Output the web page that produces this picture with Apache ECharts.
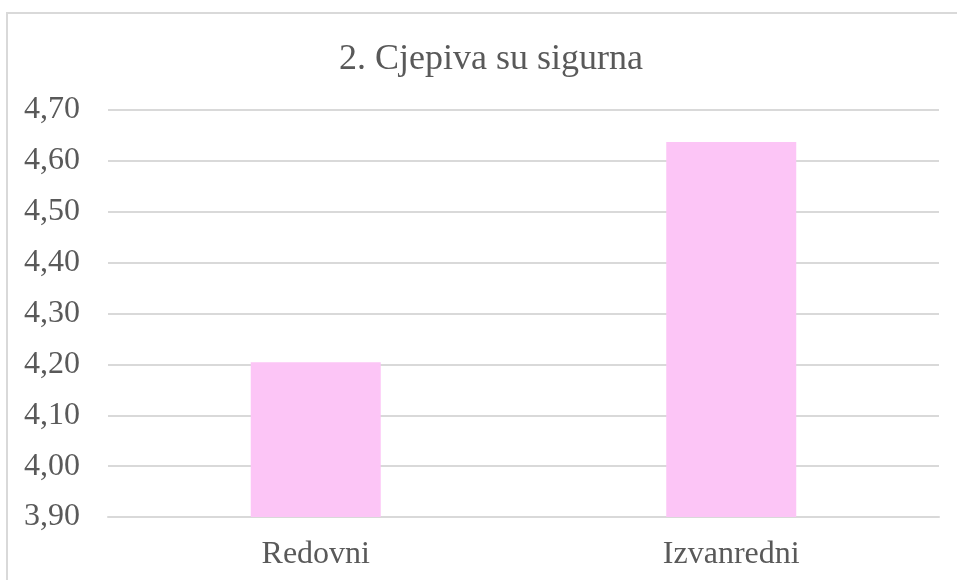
<!DOCTYPE html>
<html>
<head>
<meta charset="utf-8">
<script src="https://cdn.jsdelivr.net/npm/echarts@6/dist/echarts.min.js"></script>
<style>
  html, body { margin: 0; padding: 0; background: #fff; }
  #chart { width: 957px; height: 580px; }
</style>
</head>
<body>
<div id="chart"></div>
<script>
const categories = ['Redovni', 'Izvanredni']
const values = [4.204, 4.637]
const yMin = 3.9
const yMax = 4.7
const yStep = 0.1

const chart = echarts.init(document.getElementById('chart'))

const font = '"Liberation Serif", "Times New Roman", serif'

const option = {
  animation: false,
  backgroundColor: '#fff',
  title: {
    text: '2. Cjepiva su sigurna',
    left: 334,
    top: 37,
    textStyle: {
      fontFamily: font,
      fontSize: 36,
      fontWeight: 'normal',
      color: '#595959'
    }
  },
  graphic: [
    {
      type: 'rect',
      shape: { x: 7, y: 13, width: 980, height: 620 },
      style: { fill: 'none', stroke: '#d9d9d9', lineWidth: 2 },
      silent: true
    }
  ],
  grid: {
    left: 108,
    right: 18,
    top: 110,
    bottom: 63
  },
  xAxis: {
    type: 'category',
    data: categories,
    axisLine: { lineStyle: { color: '#d9d9d9', width: 2 } },
    axisTick: { show: false },
    axisLabel: {
      fontFamily: font,
      fontSize: 32,
      color: '#595959',
      margin: 22
    }
  },
  yAxis: {
    type: 'value',
    min: yMin,
    max: yMax,
    interval: yStep,
    axisLine: { show: false },
    axisTick: { show: false },
    splitLine: { lineStyle: { color: '#d9d9d9', width: 2 } },
    axisLabel: {
      fontFamily: font,
      fontSize: 32,
      color: '#595959',
      margin: 28,
      formatter: v => v.toFixed(2).replace('.', ',')
    }
  },
  series: [
    {
      type: 'bar',
      data: values,
      barWidth: 130,
      itemStyle: { color: '#fcc5f6' }
    }
  ]
}

chart.setOption(option)
</script>
</body>
</html>
